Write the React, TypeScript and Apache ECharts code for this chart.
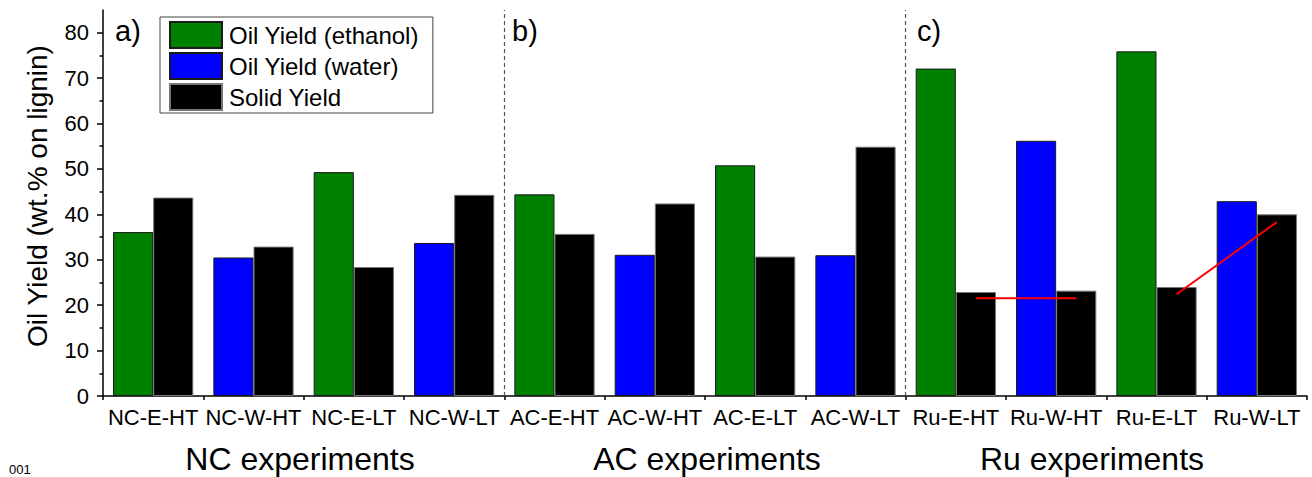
import React, { useEffect, useRef } from "react";
import * as echarts from "echarts";

const categories = [
  "NC-E-HT", "NC-W-HT", "NC-E-LT", "NC-W-LT",
  "AC-E-HT", "AC-W-HT", "AC-E-LT", "AC-W-LT",
  "Ru-E-HT", "Ru-W-HT", "Ru-E-LT", "Ru-W-LT",
];
const ethanolOil = [36.1, null, 49.3, null, 44.4, null, 50.8, null, 72.1, null, 75.9, null];
const waterOil = [null, 30.5, null, 33.7, null, 31.1, null, 31.0, null, 56.2, null, 42.9];
const solidYield = [43.7, 32.9, 28.4, 44.3, 35.7, 42.4, 30.7, 54.9, 22.9, 23.2, 24.0, 40.0];
const redLine1 = [[8.7, 21.5], [9.7, 21.5]];
const redLine2 = [[10.7, 22.4], [11.7, 38.3]];
const groupDividers = [4, 8];
const groupNames = ["NC experiments", "AC experiments", "Ru experiments"];
const panelLabels = ["a)", "b)", "c)"];
const yTicks = [0, 10, 20, 30, 40, 50, 60, 70, 80];
const yMinorTicks = [5, 15, 25, 35, 45, 55, 65, 75];
const seriesNames = ["Oil Yield (ethanol)", "Oil Yield (water)", "Solid Yield"];
const yName = "Oil Yield (wt.% on lignin)";
const footText = "001";

const FONT = "Liberation Sans, Arial, sans-serif";

export default function App() {
  const ref = useRef<HTMLDivElement>(null);
  useEffect(() => {
    document.body.style.margin = "0";
    const chart = echarts.init(ref.current!, null, { renderer: "svg" });
    const groupX = [300, 707, 1092];
    const panelX = [115, 512, 917];
    chart.setOption({
      animation: false,
      backgroundColor: "#fff",
      textStyle: { fontFamily: FONT },
      grid: { left: 103, right: 5, top: 10, bottom: 81 },
      legend: {
        data: seriesNames,
        orient: "vertical",
        left: 160,
        top: 17,
        itemWidth: 52,
        itemHeight: 26,
        itemGap: 3,
        icon: "rect",
        padding: [4, 14, 2, 9],
        borderColor: "#444",
        borderWidth: 1,
        textStyle: { fontSize: 24, color: "#000", fontFamily: FONT, padding: [0, 0, 0, 2] },
      },
      xAxis: [
        {
          type: "category",
          data: categories,
          axisLine: { lineStyle: { color: "#000", width: 1.5 } },
          axisTick: { alignWithLabel: true, length: 7, lineStyle: { color: "#000", width: 1.5 } },
          axisLabel: { fontSize: 22, color: "#000", margin: 10, fontFamily: FONT, interval: 0 },
        },
        {
          type: "value",
          min: 0,
          max: 12,
          interval: 1,
          position: "bottom",
          axisLine: { show: false },
          axisTick: { show: true, length: 4, lineStyle: { color: "#000", width: 1.5 } },
          axisLabel: { show: false },
          splitLine: { show: false },
        },
      ],
      yAxis: [
        {
          type: "value",
          min: 0,
          max: 85,
          axisLine: { show: true, lineStyle: { color: "#000", width: 1.5 } },
          axisTick: { show: true, length: 6, customValues: yTicks, lineStyle: { color: "#000", width: 1.5 } },
          axisLabel: { fontSize: 22, color: "#000", margin: 14, fontFamily: FONT, customValues: yTicks },
          splitLine: { show: false },
        },
        {
          type: "value",
          min: 0,
          max: 85,
          position: "left",
          axisLine: { show: false },
          axisTick: { show: true, length: 3.5, customValues: yMinorTicks, lineStyle: { color: "#000", width: 1.5 } },
          axisLabel: { show: false },
          splitLine: { show: false },
        },
      ],
      series: [
        {
          name: seriesNames[0],
          type: "bar",
          stack: "oil",
          data: ethanolOil,
          barCategoryGap: "20%",
          barGap: "0%",
          itemStyle: { color: "#008000", borderColor: "#1a1a1a", borderWidth: 1 },
        },
        {
          name: seriesNames[1],
          type: "bar",
          stack: "oil",
          data: waterOil,
          barCategoryGap: "20%",
          barGap: "0%",
          itemStyle: { color: "#0000ff", borderColor: "#1a1a1a", borderWidth: 1 },
        },
        {
          name: seriesNames[2],
          type: "bar",
          data: solidYield,
          barCategoryGap: "20%",
          barGap: "0%",
          itemStyle: { color: "#000000", borderColor: "#777", borderWidth: 1 },
        },
        {
          name: "red1",
          type: "line",
          xAxisIndex: 1,
          data: redLine1,
          symbol: "none",
          lineStyle: { color: "#ff0000", width: 2 },
          silent: true,
          markLine: {
            silent: true,
            symbol: ["none", "none"],
            label: { show: false },
            lineStyle: { color: "#555", width: 1.2, type: [4, 3] },
            data: groupDividers.map((v) => ({ xAxis: v })),
          },
        },
        {
          name: "red2",
          type: "line",
          xAxisIndex: 1,
          data: redLine2,
          symbol: "none",
          lineStyle: { color: "#ff0000", width: 2 },
          silent: true,
        },
      ],
      graphic: [
        {
          type: "text",
          x: 37,
          y: 196,
          rotation: Math.PI / 2,
          style: { text: yName, font: `28px ${FONT}`, fill: "#000", align: "center", verticalAlign: "middle" },
        },
        ...panelLabels.map((t, i) => ({
          type: "text",
          x: panelX[i],
          y: 31,
          style: { text: t, font: `29px ${FONT}`, fill: "#000", align: "left", verticalAlign: "middle" },
        })),
        ...groupNames.map((t, i) => ({
          type: "text",
          x: groupX[i],
          y: 459,
          style: { text: t, font: `32px ${FONT}`, fill: "#000", align: "center", verticalAlign: "middle" },
        })),
        {
          type: "text",
          x: 9,
          y: 463,
          style: { text: footText, font: `13px ${FONT}`, fill: "#000", align: "left", verticalAlign: "top" },
        },
      ],
    });
    return () => chart.dispose();
  }, []);
  return <div ref={ref} style={{ width: 1312, height: 477 }} />;
}
